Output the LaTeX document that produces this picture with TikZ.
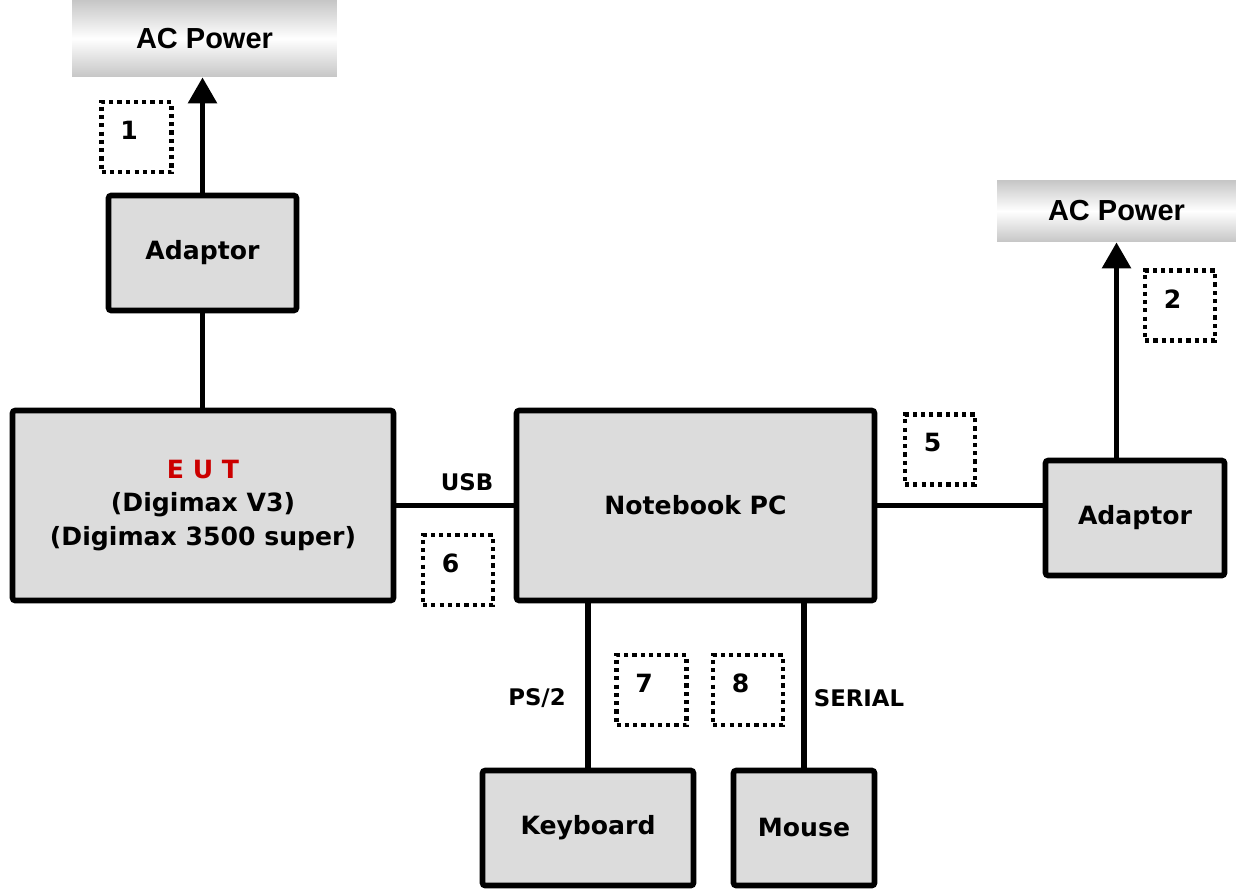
\documentclass[tikz,border=0pt]{standalone}
\usepackage{fontspec}
\setmainfont{DejaVu Sans}
\newfontfamily\acfont{Liberation Sans}
\usetikzlibrary{arrows.meta}
\definecolor{boxgray}{HTML}{DCDCDC}
\definecolor{eutred}{HTML}{CC0000}

\begin{document}
\begin{tikzpicture}[
    unit/.style={draw, line width=3.2pt, fill=boxgray, rounded corners=1.5pt, align=center,
                 font=\bfseries\fontsize{14.3}{19}\selectfont},
    power/.style={top color=gray!45, bottom color=gray!45, middle color=white,
                  font=\acfont\bfseries\fontsize{16.5}{19}\selectfont},
    dotbox/.style={draw, line width=2.4pt, dash pattern=on 2.4pt off 2.3pt,
                   minimum width=1.4cm, minimum height=1.4cm},
    numtxt/.style={font=\bfseries\fontsize{14.3}{17}\selectfont},
    cable/.style={line width=3.2pt},
    feed/.style={line width=3.2pt, -{Triangle[width=0.56cm, length=0.52cm]}},
    portlbl/.style={font=\bfseries\fontsize{13}{15}\selectfont}
]
    \begin{scope}[x=0.02cm, y=-0.02cm]
        \useasboundingbox (0,0) rectangle (1236,892);

        % Power sources
        \node[power, minimum width=5.3cm, minimum height=1.54cm] (ac1) at (204.5,38.5) {AC Power};
        \node[power, minimum width=4.78cm, minimum height=1.24cm] (ac2) at (1116.5,211) {AC Power};

        % Units
        \node[unit, minimum width=3.76cm, minimum height=2.3cm] (ad1) at (202.5,253) {Adaptor};
        \node[unit, minimum width=7.62cm, minimum height=3.8cm] (eut) at (203,505.5)
            {{\color{eutred}E U T}\\(Digimax V3)\\(Digimax 3500 super)};
        \node[unit, minimum width=7.16cm, minimum height=3.8cm] (nb) at (695.5,505.5) {Notebook PC};
        \node[unit, minimum width=3.58cm, minimum height=2.3cm] (ad2) at (1135,518) {Adaptor};
        \node[unit, minimum width=4.22cm, minimum height=2.3cm] (kb) at (588,828) {Keyboard};
        \node[unit, minimum width=2.82cm, minimum height=2.3cm] (ms) at (804,828) {Mouse};

        % Cables
        \draw[feed] (ad1.north) -- (ad1.north |- ac1.south);
        \draw[cable] (ad1.south) -- (ad1.south |- eut.north);
        \draw[cable] (eut.east) -- (nb.west);
        \draw[cable] (nb.east) -- (nb.east -| ad2.west);
        \draw[feed] (ac2.south |- ad2.north) -- (ac2.south);
        \draw[cable] (kb.north |- nb.south) -- (kb.north);
        \draw[cable] (ms.north |- nb.south) -- (ms.north);

        % Port labels
        \node[portlbl] (usb) at (467,482) {USB};
        \node[portlbl] (ps2) at (537,698) {PS/2};
        \node[portlbl] (ser) at (859,698) {SERIAL};

        % Cable numbers
        \foreach \n/\x/\y in {1/136.5/137, 2/1180/305.5, 5/940/449.5, 6/458/570, 7/651.5/690, 8/748/690} {
            \node[dotbox] (d\n) at (\x,\y) {};
            \node[numtxt] (n\n) at ([xshift=-0.15cm, yshift=0.13cm]d\n.center) {\n};
        }
    \end{scope}
\end{tikzpicture}
\end{document}
